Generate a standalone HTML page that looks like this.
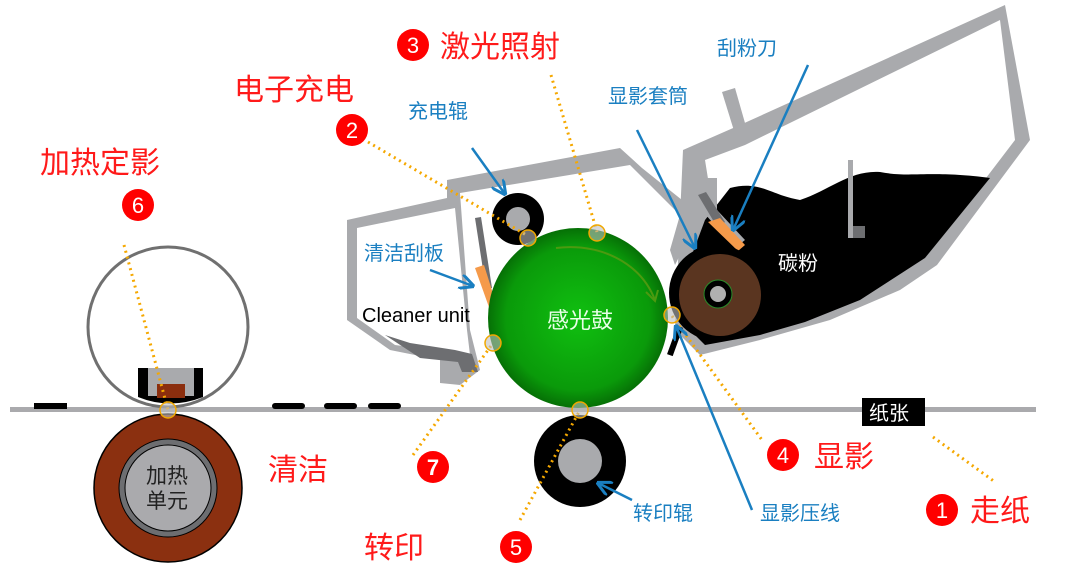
<!DOCTYPE html>
<html><head><meta charset="utf-8"><style>
html,body{margin:0;padding:0;background:#fff;}
svg{display:block;}
text{font-family:"Liberation Sans","Noto Sans CJK SC",sans-serif;}
.r{fill:#ff1a1a;font-size:30px;}
.b{fill:#1a7fc1;font-size:20px;}
</style></head><body>
<svg width="1080" height="583" viewBox="0 0 1080 583" xmlns="http://www.w3.org/2000/svg">
<defs>
<radialGradient id="g" cx="50%" cy="50%" r="50%">
<stop offset="0" stop-color="#10c010"/><stop offset="0.8" stop-color="#0a9a0a"/><stop offset="1" stop-color="#067006"/>
</radialGradient>
<marker id="ar" viewBox="0 0 10 10" refX="9" refY="5" markerWidth="6" markerHeight="6" orient="auto"><path d="M0,0 L10,5 L0,10" fill="none" stroke="#1a7fc1" stroke-width="2"/></marker>
</defs>

<!-- toner hopper -->
<polygon points="683,150 740,125 1005,5 1030,140 937,265 900,290 830,320 760,340 700,355 690,345 675,330" fill="#a9aaad"/>
<polygon points="705,160 745,145 1000,20 1015,140 925,258 890,280 825,308 760,325 705,340 700,240 713,210" fill="#fff"/>
<path d="M730,188 C760,180 770,195 800,200 C830,190 850,170 880,172 C910,178 930,170 990,178 L925,258 L860,300 L805,322 L760,335 L705,345 L690,330 L690,260 L705,220 Z" fill="#000"/>
<rect x="848" y="160" width="5" height="78" fill="#a9aaad"/><rect x="853" y="226" width="12" height="12" fill="#6d6e71"/>
<polygon points="722,92 735,88 747,130 735,134" fill="#a9aaad"/>
<polygon points="707,178 717,178 717,210 745,240 735,248 705,214" fill="#a9aaad"/>
<polygon points="698,195 706,192 725,222 717,227" fill="#6d6e71"/>
<polygon points="708,222 720,218 745,245 738,251" fill="#f59a4a"/>
<text x="778" y="270" fill="#fff" font-size="20">碳粉</text>
<!-- developer -->
<circle cx="717" cy="293" r="48" fill="#000"/>
<circle cx="720" cy="295" r="41" fill="#5a3520"/>
<circle cx="718" cy="294" r="14" fill="#000" stroke="#2a8a2a" stroke-width="1"/>
<circle cx="718" cy="294" r="8" fill="#b0b0b0"/>
<rect x="672" y="326" width="6" height="30" fill="#000" transform="rotate(20 675 341)"/>

<!-- cleaner housing -->
<polygon points="347,220 447,198 447,180 620,148 642,168 692,208 685,245 675,265 670,250 680,215 630,165 460,193 470,330 480,370 460,385 440,383 440,360 390,350 347,320" fill="#a9aaad"/>
<polygon points="357,228 455,208 467,330 470,355 395,345 357,318" fill="#fff"/>
<polygon points="385,335 410,343 455,350 472,354 478,372 462,372 458,362 420,358" fill="#6d6e71"/>
<polygon points="475,218 481,217 492,288 486,289" fill="#6d6e71"/>
<polygon points="475,268 484,265 495,300 490,310" fill="#f59a4a"/>
<text x="362" y="322" fill="#000" font-size="20">Cleaner unit</text>

<!-- paper -->
<rect x="10" y="407" width="1026" height="5" fill="#aaaaad"/>
<rect x="34" y="403" width="33" height="6" fill="#000"/>
<rect x="272" y="403" width="33" height="6" rx="3" fill="#000"/>
<rect x="324" y="403" width="33" height="6" rx="3" fill="#000"/>
<rect x="368" y="403" width="33" height="6" rx="3" fill="#000"/>
<rect x="862" y="398" width="63" height="28" fill="#000"/>
<text x="869" y="420" fill="#fff" font-size="20">纸张</text>

<!-- fuser -->
<circle cx="168" cy="327" r="80" fill="none" stroke="#707070" stroke-width="3"/>
<path d="M138,368 H203 V397 Q170,410 138,397 Z" fill="#000"/>
<rect x="148" y="368" width="46" height="28" fill="#a9aaad"/>
<rect x="157" y="384" width="28" height="14" fill="#8b2e0e"/>
<circle cx="168" cy="488" r="74" fill="#8b3010" stroke="#000" stroke-width="1.5"/>
<circle cx="168" cy="488" r="49" fill="#6d6e71" stroke="#000" stroke-width="1"/>
<circle cx="168" cy="488" r="43" fill="#aaaaad" stroke="#000" stroke-width="1"/>
<text x="146" y="483" fill="#222" font-size="21">加热</text>
<text x="146" y="508" fill="#222" font-size="21">单元</text>

<!-- drum & rollers -->
<circle cx="578" cy="318" r="90" fill="url(#g)"/>
<path d="M556,248 C600,243 640,262 655,300" fill="none" stroke="#4c9a10" stroke-width="2"/>
<path d="M646,292 L655,301 L658,290" fill="none" stroke="#4c9a10" stroke-width="2"/>
<text x="547" y="328" fill="#e8ffe8" font-size="22">感光鼓</text>
<circle cx="518" cy="219" r="26" fill="#000"/><circle cx="518" cy="219" r="12" fill="#a9aaad"/>
<circle cx="580" cy="461" r="46" fill="#000"/><circle cx="580" cy="461" r="22" fill="#a9aaad"/>

<!-- dotted leaders -->
<g stroke="#f5a800" stroke-width="3" stroke-dasharray="2 4" fill="none">
<line x1="368" y1="142" x2="528" y2="236"/>
<line x1="551" y1="75" x2="597" y2="232"/>
<line x1="124" y1="245" x2="168" y2="410"/>
<line x1="413" y1="455" x2="493" y2="343"/>
<line x1="520" y1="520" x2="580" y2="410"/>
<line x1="672" y1="316" x2="762" y2="440"/>
<line x1="933" y1="437" x2="995" y2="482"/>
</g>
<g fill="rgba(190,190,190,0.6)" stroke="#f0a800" stroke-width="1.5">
<circle cx="528" cy="238" r="8"/><circle cx="597" cy="233" r="8"/><circle cx="493" cy="343" r="8"/>
<circle cx="672" cy="315" r="8"/><circle cx="580" cy="410" r="8"/><circle cx="168" cy="410" r="8"/>
</g>

<!-- blue arrows -->
<g stroke="#1a7fc1" stroke-width="2.5" fill="none" marker-end="url(#ar)">
<line x1="472" y1="148" x2="505" y2="194"/>
<line x1="430" y1="270" x2="473" y2="286"/>
<line x1="637" y1="130" x2="695" y2="248"/>
<line x1="808" y1="65" x2="733" y2="230"/>
<line x1="752" y1="510" x2="676" y2="326"/>
<line x1="632" y1="500" x2="598" y2="483"/>
</g>

<!-- labels -->
<text class="b" x="408" y="118">充电辊</text>
<text class="b" x="608" y="103">显影套筒</text>
<text class="b" x="717" y="55">刮粉刀</text>
<text class="b" x="364" y="260">清洁刮板</text>
<text class="b" x="633" y="520">转印辊</text>
<text class="b" x="760" y="520">显影压线</text>

<g fill="#ff0000"><circle cx="413" cy="45" r="16"/><circle cx="352" cy="130" r="16"/><circle cx="138" cy="205" r="16"/>
<circle cx="433" cy="467" r="16"/><circle cx="516" cy="547" r="16"/><circle cx="783" cy="455" r="16"/><circle cx="942" cy="510" r="16"/></g>
<g fill="#fff" font-size="22" text-anchor="middle">
<text x="413" y="53">3</text><text x="352" y="138">2</text><text x="138" y="213">6</text><text x="433" y="475" font-weight="bold">7</text>
<text x="516" y="555">5</text><text x="783" y="463">4</text><text x="942" y="518">1</text></g>
<text class="r" x="440" y="57">激光照射</text>
<text class="r" x="234" y="100">电子充电</text>
<text class="r" x="40" y="173">加热定影</text>
<text class="r" x="268" y="480">清洁</text>
<text class="r" x="364" y="558">转印</text>
<text class="r" x="814" y="467">显影</text>
<text class="r" x="970" y="521">走纸</text>
</svg>
</body></html>
